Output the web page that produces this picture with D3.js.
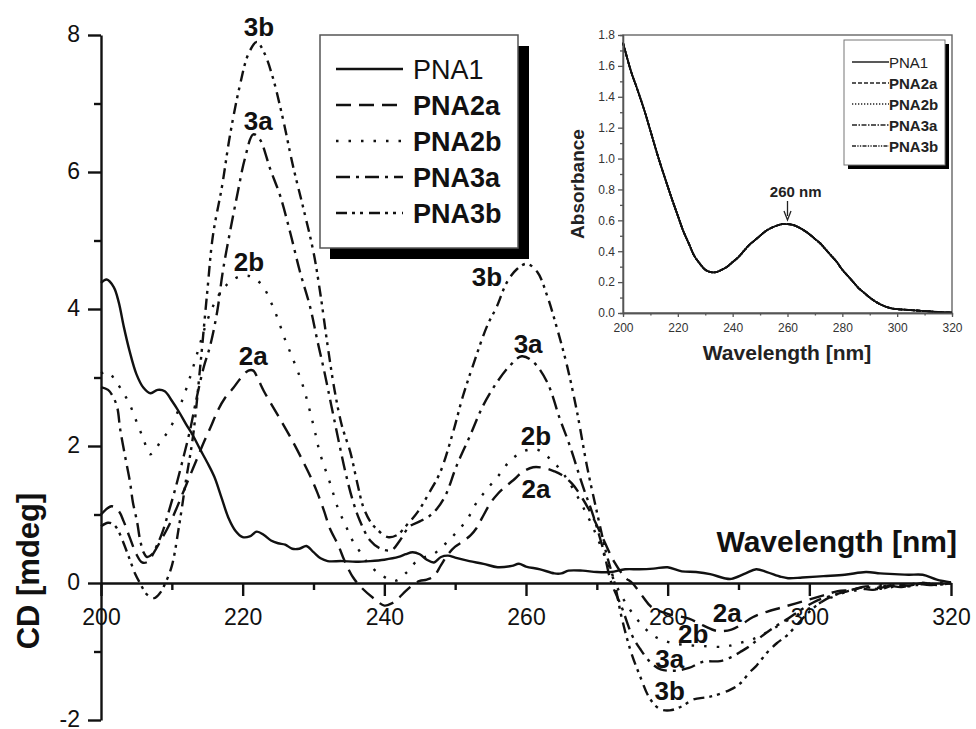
<!DOCTYPE html>
<html>
<head>
<meta charset="utf-8">
<script src="https://cdn.jsdelivr.net/npm/d3@7/dist/d3.min.js"></script>
<style>
  body { margin: 0; background: #fff; }
  svg { display: block; font-family: "Liberation Sans", Arial, sans-serif; }
</style>
</head>
<body>
<svg width="976" height="729"></svg>
<script>
// CD spectra, [wavelength nm, CD mdeg]
const pna1 = [[200,4.38],[200.8,4.43],[201.8,4.32],[202.5,4.1],[203.2,3.75],[204,3.4],[205,3.05],[206,2.85],[207,2.77],[208,2.82],[209,2.8],[210,2.66],[211,2.5],[212,2.32],[213,2.15],[214,1.95],[215,1.76],[216,1.55],[217,1.25],[218,0.95],[219,0.76],[220,0.67],[221,0.68],[222,0.75],[223,0.7],[224,0.62],[225,0.58],[226,0.56],[227,0.5],[228,0.5],[229,0.54],[230,0.45],[231,0.36],[232,0.32],[234,0.32],[236,0.31],[238,0.32],[240,0.34],[242,0.38],[243,0.42],[244,0.45],[245,0.42],[246,0.34],[247,0.3],[248,0.38],[249,0.4],[250,0.37],[252,0.32],[254,0.28],[256,0.23],[258,0.25],[259,0.28],[260,0.24],[262,0.2],[264,0.14],[265,0.14],[266,0.18],[268,0.18],[270,0.16],[272,0.16],[274,0.2],[276,0.2],[278,0.21],[280,0.23],[282,0.17],[284,0.16],[286,0.13],[288,0.07],[289,0.06],[291,0.14],[292.5,0.2],[294,0.16],[296,0.09],[297,0.07],[299,0.08],[302,0.1],[305,0.12],[308,0.16],[310,0.14],[312,0.13],[314,0.12],[316,0.12],[318,0.05],[320,0.01]];

const pna2a = [[200,1.0],[201.5,1.12],[202.5,1.05],[203.2,0.9],[204,0.68],[205,0.42],[205.8,0.3],[206.6,0.31],[207.5,0.45],[208.5,0.63],[209.5,0.82],[210.5,1.05],[211.5,1.3],[212.5,1.55],[213.5,1.8],[214.5,2.05],[215.5,2.28],[216.5,2.52],[217.5,2.7],[218.7,2.85],[219.8,3.0],[220.8,3.1],[221.5,3.1],[222.2,2.97],[223,2.8],[224,2.62],[225.3,2.39],[227.1,2.06],[228.5,1.78],[229.5,1.57],[230.5,1.33],[231.5,1.05],[232.3,0.8],[233.5,0.55],[234.4,0.32],[235.6,0.08],[236.8,-0.07],[238.7,-0.24],[240,-0.33],[241,-0.3],[242,-0.22],[243,-0.12],[244,-0.03],[245,0.03],[246,0.05],[247,0.1],[248,0.26],[249,0.42],[250,0.53],[251,0.6],[252.2,0.7],[253,0.8],[253.8,0.95],[255,1.17],[256,1.3],[257,1.4],[258.2,1.5],[259.5,1.62],[261,1.69],[262.5,1.68],[264,1.63],[265,1.58],[266.5,1.45],[268,1.23],[269.5,0.95],[271,0.62],[272.5,0.3],[274,0.08],[275,0],[276.5,-0.2],[277.7,-0.35],[280,-0.45],[283,-0.52],[285,-0.62],[287,-0.7],[289,-0.68],[290.5,-0.6],[292,-0.5],[294,-0.42],[296,-0.36],[298,-0.3],[300,-0.24],[302,-0.18],[304,-0.12],[306,-0.1],[308,-0.05],[310,-0.07],[312,-0.02],[314,-0.04],[316,0.0],[318,-0.03],[320,0.0]];

const pna2b = [[200,3.06],[201,3.08],[202,2.96],[203,2.8],[204,2.62],[205,2.36],[206,2.1],[206.9,1.88],[207.6,1.93],[208.3,2.05],[209.7,2.25],[211.4,2.65],[212.8,3.08],[214,3.5],[215,3.83],[216,4.08],[217.2,4.29],[218.5,4.42],[219.8,4.48],[221,4.48],[222,4.42],[222.9,4.33],[223.9,4.12],[224.8,3.9],[226,3.55],[227.1,3.27],[228.5,2.88],[230,2.3],[230.9,1.9],[232.3,1.47],[233.5,1.08],[234.5,0.85],[235.4,0.64],[236.6,0.45],[238,0.25],[239.8,0.1],[241.5,0.03],[243.2,0.16],[244.8,0.34],[246.9,0.42],[248.3,0.54],[250,0.72],[251.7,0.93],[253,1.17],[254.5,1.37],[256.3,1.59],[257.7,1.78],[259.6,1.92],[261.5,1.95],[263.1,1.84],[264.8,1.66],[266.5,1.4],[268,1.12],[269.5,0.8],[271,0.42],[272.5,0.02],[274,-0.28],[276,-0.57],[278,-0.77],[280,-0.86],[282,-0.9],[285,-0.92],[288,-0.93],[290,-0.88],[292,-0.82],[294,-0.72],[296,-0.6],[298,-0.48],[300,-0.37],[302.5,-0.24],[305,-0.14],[307,-0.1],[309,-0.04],[311,-0.07],[313,-0.02],[316,-0.03],[318,0.01],[320,-0.01]];

const pna3a = [[200,2.86],[201,2.82],[201.7,2.72],[202.3,2.56],[202.7,2.25],[203.4,1.85],[204.1,1.47],[204.5,1.18],[205.1,0.89],[205.5,0.64],[206,0.45],[206.5,0.38],[207.2,0.42],[207.9,0.55],[208.7,0.75],[209.5,1.02],[210.5,1.38],[211.5,1.78],[212.5,2.2],[213.5,2.7],[214.5,3.15],[215.4,3.46],[216.4,3.96],[217.2,4.55],[218.2,5.12],[219.3,5.7],[220.3,6.19],[221.5,6.55],[222.4,6.48],[223.9,6.04],[225.3,5.65],[226.7,5.12],[228.1,4.54],[229.5,4.04],[230.5,3.56],[231.5,3.1],[232.5,2.6],[233.5,2.1],[234.5,1.62],[235.5,1.22],[236.5,0.92],[238,0.62],[239.5,0.5],[241,0.48],[242.2,0.62],[243.5,0.82],[245,0.9],[246.4,0.98],[247.4,1.08],[248.6,1.27],[250.2,1.71],[252.1,2.15],[253.9,2.58],[255.9,2.93],[257.7,3.17],[259.4,3.31],[261,3.23],[263,2.93],[264.8,2.39],[266.2,2.0],[268,1.42],[269.5,0.98],[271,0.45],[272,0.02],[273.5,-0.35],[275,-0.77],[276.1,-0.96],[277.5,-1.15],[279,-1.26],[281,-1.28],[283,-1.24],[285,-1.15],[287.4,-1.14],[289,-1.08],[290.2,-1.01],[291.6,-0.92],[293,-0.8],[295,-0.65],[297,-0.52],[299,-0.38],[301,-0.26],[303.3,-0.18],[305,-0.13],[307,-0.08],[309,-0.1],[311,-0.04],[313,-0.06],[315,-0.01],[317,-0.03],[320,0.0]];

const pna3b = [[200,0.83],[201,0.88],[201.7,0.86],[202.3,0.79],[203,0.63],[204,0.36],[204.8,0.14],[205.5,0.0],[206.5,-0.17],[207.5,-0.22],[208.3,-0.15],[209,-0.02],[210,0.25],[211,0.82],[212,1.5],[213,2.15],[214,3.15],[215,4.25],[215.8,5.07],[217.1,5.8],[218.2,6.53],[219.6,7.26],[220.8,7.72],[222,7.9],[223,7.75],[224.2,7.4],[225.7,6.77],[227.1,6.09],[228.5,5.5],[230,4.83],[231,4.2],[232,3.46],[233,2.8],[234,2.3],[235.2,1.91],[236.2,1.45],[237,1.12],[238,0.9],[239,0.78],[240.5,0.67],[241.8,0.7],[243.2,0.85],[244.8,1.05],[246.4,1.33],[247.9,1.62],[249.7,2.2],[251.1,2.73],[252.5,3.17],[254.5,3.75],[255.9,4.04],[257.3,4.39],[258.7,4.58],[260.1,4.66],[261.6,4.54],[263,4.19],[264.4,3.71],[265.8,3.17],[267.2,2.5],[268.6,1.71],[270,1.04],[271.3,0.45],[272.5,0.0],[273.5,-0.5],[274.8,-1.0],[276.1,-1.36],[277.5,-1.69],[278.9,-1.84],[280.3,-1.86],[282,-1.8],[283.6,-1.7],[286,-1.66],[288.8,-1.56],[290.2,-1.47],[291.6,-1.3],[292.6,-1.2],[294,-1.02],[295.4,-0.88],[296.9,-0.76],[298.5,-0.58],[300,-0.42],[301.5,-0.29],[303.5,-0.18],[306,-0.1],[308,-0.06],[310,-0.09],[312,-0.03],[314,-0.05],[316,0.0],[318,-0.02],[320,0.0]];

// UV absorbance (inset), all five PNAs overlap
const absorbance = [[200,1.75],[203,1.56],[205,1.46],[208,1.3],[210,1.18],[213,1.0],[215,0.89],[218,0.73],[220,0.63],[222,0.53],[224,0.45],[226,0.37],[228,0.32],[230,0.28],[232,0.265],[234,0.265],[236,0.28],[238,0.3],[240,0.33],[242,0.36],[244,0.4],[246,0.44],[248,0.47],[250,0.5],[252,0.53],[254,0.55],[256,0.565],[258,0.575],[260,0.575],[262,0.57],[264,0.555],[266,0.535],[268,0.51],[270,0.48],[272,0.45],[274,0.41],[276,0.37],[278,0.33],[280,0.28],[282,0.24],[284,0.2],[286,0.16],[288,0.13],[290,0.1],[292,0.075],[294,0.055],[296,0.04],[298,0.03],[300,0.025],[304,0.02],[308,0.015],[312,0.01],[316,0.005],[320,0.003]];

const seriesNames = ["PNA1", "PNA2a", "PNA2b", "PNA3a", "PNA3b"];
const seriesData = [pna1, pna2a, pna2b, pna3a, pna3b];

const xTicks = [200, 220, 240, 260, 280, 300, 320];
const xMinor = [210, 230, 250, 270, 290, 310];
const yTicks = [-2, 0, 2, 4, 6, 8];
const yMinor = [-1, 1, 3, 5, 7];

const insetXTicks = [200, 220, 240, 260, 280, 300, 320];
const insetXMinor = [210, 230, 250, 270, 290, 310];
const insetYTicks = [0, 0.2, 0.4, 0.6, 0.8, 1.0, 1.2, 1.4, 1.6, 1.8];
const insetYMinor = [0.1, 0.3, 0.5, 0.7, 0.9, 1.1, 1.3, 1.5, 1.7];

// curve tags: [text, wavelength, CD]
const curveTags = [["3b",222.3,8.12],["3a",222.2,6.74],["2b",220.9,4.69],["2a",221.5,3.31],
                   ["3b",254.5,4.47],["3a",260.3,3.49],["2b",261.4,2.15],["2a",261.4,1.37],
                   ["2a",288.4,-0.44],["2b",283.6,-0.74],["3a",280.3,-1.11],["3b",280.3,-1.58]];

const svg = d3.select("svg");

// dash styles for each series
const dash = {PNA1: null, PNA2a: "15,8", PNA2b: "2.5,10", PNA3a: "14,6,3,6", PNA3b: "11,5,3,5,3,6"};
const dashSmall = {PNA1: null, PNA2a: "4,2", PNA2b: "1.3,1.7", PNA3a: "5,1.5,1.5,1.5", PNA3b: "4,1.3,1.3,1.3,1.3,1.3"};

// ---- main chart ----
const x = d3.scaleLinear().domain([200, 320]).range([101, 951]);
const y = d3.scaleLinear().domain([-2, 8]).range([720, 35]);

const line = d3.line().x(d => x(d[0])).y(d => y(d[1])).curve(d3.curveCatmullRom);

const main = svg.append("g");

seriesNames.forEach((name, i) => {
    main.append("path")
        .datum(seriesData[i])
        .attr("d", line)
        .attr("fill", "none")
        .attr("stroke", "#111")
        .attr("stroke-width", 2.4)
        .attr("stroke-dasharray", dash[name]);
});

// axes
main.append("g")
    .attr("transform", `translate(0,${y(0)})`)
    .call(d3.axisBottom(x).tickValues(xTicks).tickSize(13).tickSizeOuter(0).tickPadding(13)
        .tickFormat(d => String(d)));
main.append("g")
    .attr("transform", `translate(0,${y(0)})`)
    .call(d3.axisBottom(x).tickValues(xMinor).tickSize(7).tickFormat(""))
    .call(g => g.select(".domain").remove());

main.append("g")
    .attr("transform", `translate(${x(200)},0)`)
    .call(d3.axisLeft(y).tickValues(yTicks).tickSize(13).tickSizeOuter(0).tickPadding(8)
        .tickFormat(d => String(d)))
    .call(g => g.selectAll(".tick text").attr("dy", "0.28em"));
main.append("g")
    .attr("transform", `translate(${x(200)},0)`)
    .call(d3.axisLeft(y).tickValues(yMinor).tickSize(7).tickFormat(""))
    .call(g => g.select(".domain").remove());

main.selectAll(".domain, .tick line").attr("stroke", "#111").attr("stroke-width", 2.4);
main.selectAll(".tick text")
    .attr("font-family", "Liberation Sans, Arial, sans-serif")
    .attr("font-size", 23).attr("fill", "#111");

main.append("text")
    .attr("x", 957).attr("y", 552)
    .attr("text-anchor", "end")
    .attr("font-size", 30).attr("font-weight", "bold").attr("fill", "#111")
    .text("Wavelength [nm]");

main.append("text")
    .attr("transform", "translate(39,571) rotate(-90)")
    .attr("text-anchor", "middle")
    .attr("font-size", 31).attr("font-weight", "bold").attr("fill", "#111")
    .text("CD [mdeg]");

main.selectAll(".tag")
    .data(curveTags)
    .join("text")
    .attr("class", "tag")
    .attr("x", d => x(d[1])).attr("y", d => y(d[2]))
    .attr("text-anchor", "middle")
    .attr("dominant-baseline", "central")
    .attr("font-size", 26).attr("font-weight", "bold").attr("fill", "#111")
    .text(d => d[0]);

// main legend
const leg = svg.append("g");
leg.append("rect").attr("x", 330).attr("y", 46).attr("width", 199).attr("height", 213).attr("fill", "#000");
leg.append("rect").attr("x", 320).attr("y", 35).attr("width", 198).attr("height", 213)
    .attr("fill", "#fff").attr("stroke", "#555").attr("stroke-width", 1.5);
seriesNames.forEach((name, i) => {
    const cy = 69 + i * 36;
    leg.append("line")
        .attr("x1", 336).attr("x2", 403).attr("y1", cy).attr("y2", cy)
        .attr("stroke", "#111").attr("stroke-width", 2.4)
        .attr("stroke-dasharray", dash[name]);
    leg.append("text")
        .attr("x", 413).attr("y", cy + 10)
        .attr("font-size", 27)
        .attr("font-weight", i === 0 ? "normal" : "bold")
        .attr("fill", "#111")
        .text(name);
});

// ---- inset ----
const xi = d3.scaleLinear().domain([200, 320]).range([623, 952]);
const yi = d3.scaleLinear().domain([0, 1.8]).range([313, 35]);
const inset = svg.append("g");
const lineI = d3.line().x(d => xi(d[0])).y(d => yi(d[1])).curve(d3.curveCatmullRom);

inset.append("rect").attr("x", 623).attr("y", 35).attr("width", 329).attr("height", 278)
    .attr("fill", "none").attr("stroke", "#666").attr("stroke-width", 1.4);

seriesNames.forEach(name => {
    inset.append("path")
        .datum(absorbance)
        .attr("d", lineI)
        .attr("fill", "none")
        .attr("stroke", "#111")
        .attr("stroke-width", 1.8)
        .attr("stroke-dasharray", dashSmall[name]);
});

const axI = inset.append("g");
axI.append("g").attr("transform", `translate(0,313)`)
    .call(d3.axisBottom(xi).tickValues(insetXTicks).tickSize(4).tickSizeOuter(0).tickPadding(6).tickFormat(d => String(d)));
axI.append("g").attr("transform", `translate(0,313)`)
    .call(d3.axisBottom(xi).tickValues(insetXMinor).tickSize(2.5).tickFormat(""));
axI.append("g").attr("transform", `translate(623,0)`)
    .call(d3.axisLeft(yi).tickValues(insetYTicks).tickSize(5).tickSizeOuter(0).tickPadding(3).tickFormat(d3.format(".1f")));
axI.append("g").attr("transform", `translate(623,0)`)
    .call(d3.axisLeft(yi).tickValues(insetYMinor).tickSize(3).tickFormat(""));
axI.selectAll(".domain, .tick line").attr("stroke", "#555").attr("stroke-width", 1.3);
axI.selectAll(".tick text")
    .attr("font-family", "Liberation Sans, Arial, sans-serif")
    .attr("font-size", 12).attr("fill", "#333");

inset.append("text")
    .attr("x", 787).attr("y", 360)
    .attr("text-anchor", "middle")
    .attr("font-size", 21).attr("font-weight", "bold").attr("fill", "#222")
    .text("Wavelength [nm]");
inset.append("text")
    .attr("transform", "translate(584,184) rotate(-90)")
    .attr("text-anchor", "middle")
    .attr("font-size", 19).attr("font-weight", "bold").attr("fill", "#222")
    .text("Absorbance");

// 260 nm arrow
inset.append("text")
    .attr("x", xi(263)).attr("y", 197)
    .attr("text-anchor", "middle")
    .attr("font-size", 15).attr("font-weight", "bold").attr("fill", "#222")
    .text("260 nm");
inset.append("line")
    .attr("x1", xi(260)).attr("x2", xi(260)).attr("y1", 201).attr("y2", 216)
    .attr("stroke", "#222").attr("stroke-width", 1.3);
inset.append("path")
    .attr("d", `M${xi(260) - 3.5},${211} L${xi(260)},${220} L${xi(260) + 3.5},${211}`)
    .attr("fill", "none").attr("stroke", "#222").attr("stroke-width", 1.3);

// inset legend
const legI = inset.append("g");
legI.append("rect").attr("x", 848).attr("y", 44).attr("width", 101).attr("height", 125).attr("fill", "#000");
legI.append("rect").attr("x", 844).attr("y", 40).attr("width", 101).attr("height", 125)
    .attr("fill", "#fff").attr("stroke", "#777").attr("stroke-width", 1);
seriesNames.forEach((name, i) => {
    const cy = 62 + i * 21;
    legI.append("line")
        .attr("x1", 852).attr("x2", 889).attr("y1", cy).attr("y2", cy)
        .attr("stroke", "#222").attr("stroke-width", 1.3)
        .attr("stroke-dasharray", dashSmall[name]);
    legI.append("text")
        .attr("x", 889).attr("y", cy + 5.5)
        .attr("font-size", 15)
        .attr("font-weight", i === 0 ? "normal" : "bold")
        .attr("fill", "#222")
        .text(name);
});
</script>
</body>
</html>
